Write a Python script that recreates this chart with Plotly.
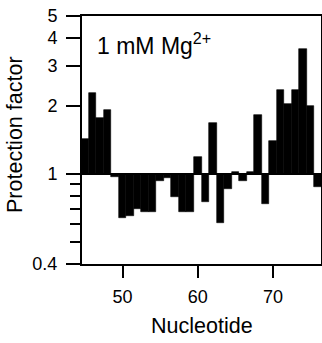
import plotly.graph_objects as go

nucleotides = list(range(45, 77))
protection = [1.43, 2.28, 1.77, 1.92, 0.97, 0.64, 0.65, 0.70, 0.68, 0.68,
              0.93, 0.96, 0.79, 0.68, 0.68, 1.19, 0.755, 1.69, 0.605, 0.855,
              1.02, 0.935, 1.025, 1.82, 0.74, 1.40, 2.35, 2.04, 2.35, 3.56,
              2.0, 0.873]
baseline = 1.0
y_major = [0.4, 1, 2, 3, 4, 5]
y_major_text = ["0.4", "1", "2", "3", "4", "5"]
y_minor = [0.5, 0.6, 0.7, 0.8, 0.9]
x_major = [50, 60, 70]

FONT = "Liberation Sans, Arial, Helvetica, sans-serif"

fig = go.Figure()
fig.add_trace(go.Bar(
    x=nucleotides,
    y=[v - baseline for v in protection],
    base=baseline,
    width=1.0,
    marker=dict(color="black", line=dict(color="black", width=0.6)),
    showlegend=False,
))

fig.add_shape(type="line", xref="paper", yref="y", x0=0, x1=1, y0=baseline, y1=baseline,
              line=dict(color="black", width=2))

fig.update_layout(
    width=322, height=343,
    margin=dict(l=82, r=1, t=16, b=79, autoexpand=False),
    paper_bgcolor="white", plot_bgcolor="white",
    bargap=0,
    font=dict(family=FONT, color="black", size=18),
    xaxis=dict(
        range=[44.6, 76.4],
        tickmode="array", tickvals=x_major,
        ticks="outside", ticklen=12, tickwidth=1.5, tickcolor="black",
        showline=True, linecolor="black", linewidth=2, mirror=True,
        showgrid=False, zeroline=False, automargin=False,
        tickfont=dict(size=18, family=FONT, color="black"),
        ticklabelstandoff=3,
    ),
    yaxis=dict(
        type="log",
        range=[-0.39794, 0.69897],
        tickmode="array", tickvals=y_major, ticktext=y_major_text,
        ticks="outside", ticklen=14, tickwidth=1.5, tickcolor="black",
        minor=dict(tickvals=y_minor, ticks="outside", ticklen=10, tickwidth=1.5, tickcolor="black"),
        showline=True, linecolor="black", linewidth=2, mirror=True,
        showgrid=False, zeroline=False, automargin=False,
        tickfont=dict(size=18, family=FONT, color="black"),
        ticklabelstandoff=5,
    ),
    annotations=[
        dict(text="1 mM Mg<sup>2+</sup>", xref="paper", yref="paper",
             x=(95 - 82) / 239, y=(264 - 44) / 248, xanchor="left", yanchor="middle",
             showarrow=False, font=dict(size=23, family=FONT, color="black")),
        dict(text="Protection factor", xref="paper", yref="paper",
             x=(15 - 82) / 239, y=(264 - 135) / 248, xanchor="center", yanchor="middle",
             textangle=-90, showarrow=False, font=dict(size=21.5, family=FONT, color="black")),
        dict(text="Nucleotide", xref="paper", yref="paper",
             x=0.5, y=(264 - 326) / 248, xanchor="center", yanchor="middle",
             showarrow=False, font=dict(size=21.5, family=FONT, color="black")),
    ],
)

fig.write_html("out.html", config={"displayModeBar": False},
               post_script="document.body.style.margin='0px';document.body.style.overflow='hidden';")
